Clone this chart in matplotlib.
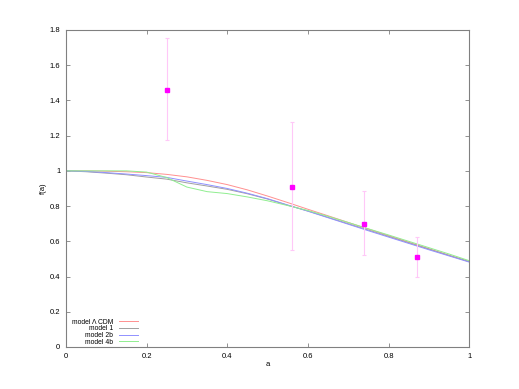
import matplotlib
matplotlib.use("Agg")
import matplotlib.pyplot as plt

plt.rcParams["font.family"] = ["Liberation Sans", "DejaVu Sans"]

# model curves f(a), sampled every 0.05 in a
a_grid = [0.0, 0.05, 0.1, 0.15, 0.2, 0.25, 0.3, 0.35, 0.4, 0.45, 0.5,
          0.55, 0.6, 0.65, 0.7, 0.75, 0.8, 0.85, 0.9, 0.95, 1.0]
f_lcdm = [1.0, 1.0, 0.998, 0.995, 0.99, 0.98, 0.966, 0.946, 0.922, 0.892, 0.857,
          0.82, 0.782, 0.745, 0.707, 0.67, 0.632, 0.595, 0.558, 0.521, 0.485]
f_model1 = [1.0, 0.995, 0.987, 0.978, 0.965, 0.953, 0.932, 0.914, 0.895, 0.87, 0.84,
            0.805, 0.772, 0.736, 0.7, 0.664, 0.628, 0.592, 0.556, 0.52, 0.485]
f_model2b = [1.0, 0.997, 0.99, 0.982, 0.973, 0.963, 0.942, 0.922, 0.9, 0.873, 0.842,
             0.806, 0.771, 0.734, 0.697, 0.66, 0.624, 0.588, 0.552, 0.517, 0.482]
f_model4b = [1.0, 1.0, 1.0, 1.0, 0.993, 0.962, 0.908, 0.882, 0.871, 0.852, 0.83,
             0.803, 0.775, 0.742, 0.707, 0.671, 0.636, 0.6, 0.564, 0.528, 0.49]

# observed points with error bars
obs_a = [0.25, 0.56, 0.74, 0.87]
obs_f = [1.46, 0.91, 0.70, 0.51]
obs_lo = [1.175, 0.55, 0.52, 0.40]
obs_hi = [1.755, 1.275, 0.885, 0.625]

fig = plt.figure(figsize=(5.19, 3.89), dpi=100)
ax = fig.add_axes([0.127, 0.108, 0.777, 0.815])

ax.plot(a_grid, f_lcdm, color="#ff9090", linewidth=0.7, label="model \u039b CDM")
ax.plot(a_grid, f_model1, color="#a0a0a0", linewidth=0.7, label="model 1")
ax.plot(a_grid, f_model2b, color="#9090ff", linewidth=0.7, label="model 2b")
ax.plot(a_grid, f_model4b, color="#90ee90", linewidth=0.7, label="model 4b")

yerr = [[f - lo for f, lo in zip(obs_f, obs_lo)],
        [hi - f for f, hi in zip(obs_f, obs_hi)]]
ax.errorbar(obs_a, obs_f, yerr=yerr, fmt="none", ecolor="#ffc8f8",
            elinewidth=0.8, capsize=1.5, capthick=0.8)
ax.plot(obs_a, obs_f, "s", color="#ff00ff", markersize=2.5, linestyle="none")

ax.set_xlim(0, 1)
ax.set_ylim(0, 1.8)
ax.set_xticks([0, 0.2, 0.4, 0.6, 0.8, 1])
ax.set_xticklabels(["0", "0.2", "0.4", "0.6", "0.8", "1"])
ax.set_yticks([0, 0.2, 0.4, 0.6, 0.8, 1, 1.2, 1.4, 1.6, 1.8])
ax.set_yticklabels(["0", "0.2", "0.4", "0.6", "0.8", "1", "1.2", "1.4", "1.6", "1.8"])
ax.tick_params(direction="in", length=3, width=0.6, color="#808080",
               labelsize=5.5, top=True, right=True, pad=4)
for spine in ax.spines.values():
    spine.set_color("#808080")
    spine.set_linewidth(0.8)

ax.set_xlabel("a", fontsize=5.5, labelpad=1)
ax.set_ylabel("f(a)", fontsize=5.5, labelpad=2)

ax.legend(loc="lower right", bbox_to_anchor=(0.178, 0.004), frameon=False,
          markerfirst=False, fontsize=4.9, handlelength=2.8, labelspacing=-0.05,
          handletextpad=0.8, borderaxespad=0.0, borderpad=0.0)

fig.savefig("out.png", dpi=100)
